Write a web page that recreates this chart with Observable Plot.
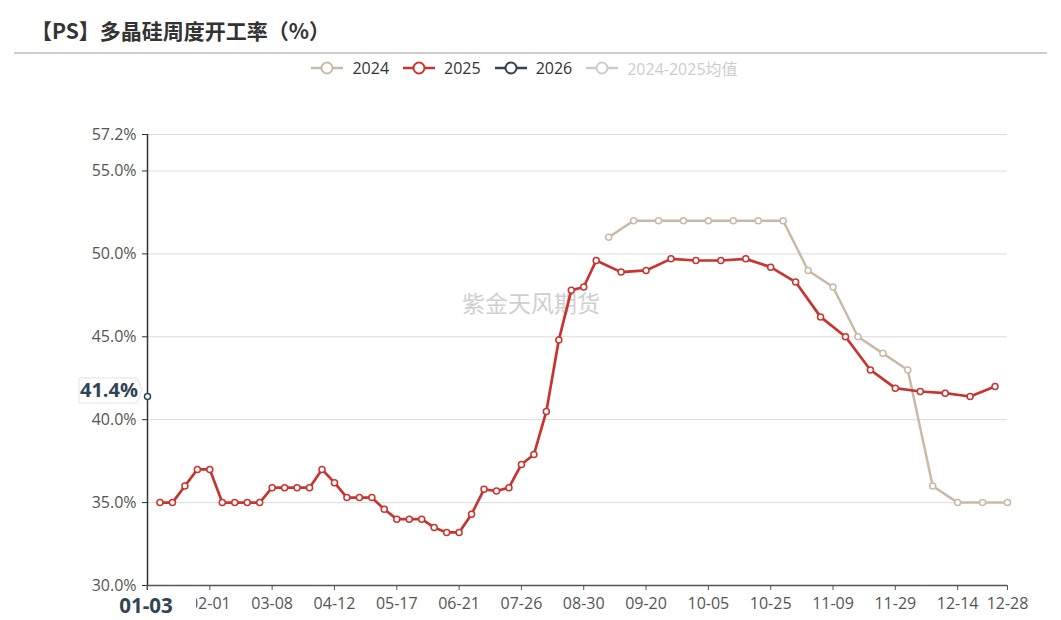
<!DOCTYPE html>
<html><head><meta charset="utf-8">
<script src="https://cdn.jsdelivr.net/npm/d3@7"></script>
<script src="https://cdn.jsdelivr.net/npm/@observablehq/plot@0.6"></script>
<style>
body{margin:0;background:#fff;width:1061px;height:620px;overflow:hidden;font-family:"Open Sans","Noto Sans CJK SC",sans-serif;}
#head{position:relative;height:54px;}
#title{position:absolute;left:31px;top:15px;font-weight:700;font-size:21px;line-height:30px;color:#333;font-family:"Noto Sans CJK SC",sans-serif;white-space:nowrap;}
#rule{position:absolute;left:14px;top:52px;width:1033px;height:2px;background:#ccc;}
#legend{height:28px;display:flex;justify-content:center;align-items:center;padding-right:12px;font-size:16px;color:#333;}
.item{display:flex;align-items:center;margin:0 7px;}
.item svg{margin-right:9px;}
#chart svg{display:block;}
</style></head>
<body>
<div id="head"><div id="title">【PS】多晶硅周度开工率（%）</div><div id="rule"></div></div>
<div id="legend"></div>
<div id="chart"></div>
<script>
const categories = ["01-03",
 "01-04","01-11","01-18","01-25","02-01","02-08","02-15","02-22","03-01","03-08",
 "03-15","03-22","03-29","04-05","04-12","04-19","04-26","05-03","05-10","05-17",
 "05-24","05-31","06-07","06-14","06-21","06-28","07-05","07-12","07-19","07-26",
 "08-02","08-09","08-16","08-23","08-30","09-06","09-07","09-13","09-14","09-20",
 "09-21","09-27","09-28","10-04","10-05","10-11","10-12","10-18","10-19","10-25",
 "10-26","11-01","11-02","11-08","11-09","11-15","11-16","11-22","11-23","11-29",
 "11-30","12-06","12-07","12-13","12-14","12-20","12-21","12-27","12-28"];

const tickLabels = ["01-03","02-01","03-08","04-12","05-17","06-21","07-26","08-30","09-20","10-05","10-25","11-09","11-29","12-14","12-28"];
const yTicks = [30, 35, 40, 45, 50, 55, 57.2];

const x2024 = ["09-07","09-14","09-21","09-28","10-05","10-12","10-19","10-26","11-02","11-09","11-16","11-23","11-30","12-07","12-14","12-21","12-28"];
const v2024 = [51.0,52.0,52.0,52.0,52.0,52.0,52.0,52.0,49.0,48.0,45.0,44.0,43.0,36.0,35.0,35.0,35.0];

const x2025 = ["01-04","01-11","01-18","01-25","02-01","02-08","02-15","02-22","03-01","03-08",
 "03-15","03-22","03-29","04-05","04-12","04-19","04-26","05-03","05-10","05-17",
 "05-24","05-31","06-07","06-14","06-21","06-28","07-05","07-12","07-19","07-26",
 "08-02","08-09","08-16","08-23","08-30","09-06","09-13","09-20","09-27","10-04",
 "10-11","10-18","10-25","11-01","11-08","11-15","11-22","11-29","12-06","12-13","12-20","12-27"];
const v2025 = [35.0,35.0,36.0,37.0,37.0,35.0,35.0,35.0,35.0,35.9,
 35.9,35.9,35.9,37.0,36.2,35.3,35.3,35.3,34.6,34.0,
 34.0,34.0,33.5,33.2,33.2,34.3,35.8,35.7,35.9,37.3,
 37.9,40.5,44.8,47.8,48.0,49.6,48.9,49.0,49.7,49.6,
 49.6,49.7,49.2,48.3,46.2,45.0,43.0,41.9,41.7,41.6,41.4,42.0];

const x2026 = ["01-03"];
const v2026 = [41.4];

const seriesNames = ["2024","2025","2026","2024-2025均值"];
const seriesColors = ["#c9baa6","#c8342f","#2f4554","#d6d6d6"];
const seriesActive = [true,true,true,false];

// legend
const legend = document.getElementById("legend");
seriesNames.forEach((n,i)=>{
  const c = seriesColors[i];
  const el = document.createElement("div");
  el.className = "item";
  el.innerHTML = `<svg width="32" height="14"><line x1="0" x2="32" y1="7" y2="7" stroke="${seriesActive[i]?c:'#ccc'}" stroke-width="2.5"/><circle cx="16" cy="7" r="5.5" fill="#fff" stroke="${seriesActive[i]?c:'#ccc'}" stroke-width="2"/></svg><span style="color:${seriesActive[i]?'#333':'#ccc'}">${n}</span>`;
  legend.appendChild(el);
});

const d2024 = x2024.map((x,i)=>({x, y:v2024[i]}));
const d2025 = x2025.map((x,i)=>({x, y:v2025[i]}));
const d2026 = x2026.map((x,i)=>({x, y:v2026[i]}));
const pointerX = x2026[0], pointerY = v2026[0];

const plot = Plot.plot({
  width: 1061,
  height: 538,
  marginLeft: 147,
  marginRight: 54,
  marginTop: 52,
  marginBottom: 35,
  style: {fontFamily: '"Open Sans","Noto Sans CJK SC",sans-serif', fontSize: "16px", background: "white", overflow: "visible"},
  x: {type: "point", domain: categories, padding: 0},
  y: {domain: [30, 57.2]},
  marks: [
    Plot.ruleY(yTicks.filter(t => t > 30), {stroke: "#dcdcdc", strokeWidth: 1}),
    Plot.text(["紫金天风期货"], {frameAnchor: "middle", dx: -46.5, dy: -55.5, fontSize: 23, fill: "#cfcfcf", fontFamily: '"Noto Sans CJK SC",sans-serif'}),
    Plot.axisY(yTicks, {tickSize: 5, tickPadding: 6, fontSize: 16, fill: "#555", stroke: "#333", tickFormat: d => d.toFixed(1) + "%", label: null}),
    Plot.axisX(tickLabels, {tickSize: 5, tickPadding: 7, fontSize: 16, fill: "#555", stroke: "#555", tickFormat: d => d === pointerX ? "" : d, label: null}),
    Plot.ruleY([30], {stroke: "#555", strokeWidth: 1.5}),
    Plot.ruleX([pointerX], {stroke: "#333", strokeWidth: 1.5}),
    Plot.line(d2024, {x: "x", y: "y", stroke: seriesColors[0], strokeWidth: 2.5}),
    Plot.dot(d2024, {x: "x", y: "y", r: 3, fill: "white", stroke: seriesColors[0], strokeWidth: 1.5}),
    Plot.line(d2025, {x: "x", y: "y", stroke: seriesColors[1], strokeWidth: 2.7}),
    Plot.dot(d2025, {x: "x", y: "y", r: 3, fill: "white", stroke: seriesColors[1], strokeWidth: 1.5}),
    Plot.dot(d2026, {x: "x", y: "y", r: 3, fill: "white", stroke: seriesColors[2], strokeWidth: 1.5})
  ]
});
document.getElementById("chart").appendChild(plot);

// axis pointer labels, positioned via the plot's own scales
const sx = plot.scale("x"), sy = plot.scale("y");
const px = sx.apply(pointerX), py = sy.apply(pointerY);
const svg = d3.select(plot);
const g = svg.append("g");
// y pointer label box with arrow
const L = px - 68, R = px - 10, T = py - 18, B = py + 7, M = (T + B) / 2;
g.append("path")
  .attr("d", `M${L},${T}H${R}L${px-5},${M}L${R},${B}H${L}Z`)
  .attr("fill", "#fff").attr("stroke", "#e3e3e3").attr("stroke-width", 1);
g.append("text").attr("x", (L + R) / 2 + 1).attr("y", py + 1)
  .attr("text-anchor", "middle").attr("font-weight", 700).attr("font-size", 20)
  .attr("fill", "#2f4554").text(pointerY.toFixed(1) + "%");
// x pointer label
const ay = sy.apply(30);
g.append("rect").attr("x", px - 50).attr("y", ay + 6).attr("width", 99).attr("height", 28).attr("fill", "#fff");
g.append("text").attr("x", px - 1).attr("y", ay + 28)
  .attr("text-anchor", "middle").attr("font-weight", 700).attr("font-size", 20.5)
  .attr("fill", "#2f4554").text(pointerX);
// re-draw tick under the x label
g.append("line").attr("x1", px).attr("x2", px).attr("y1", ay).attr("y2", ay + 5).attr("stroke", "#555");
</script>
</body></html>
